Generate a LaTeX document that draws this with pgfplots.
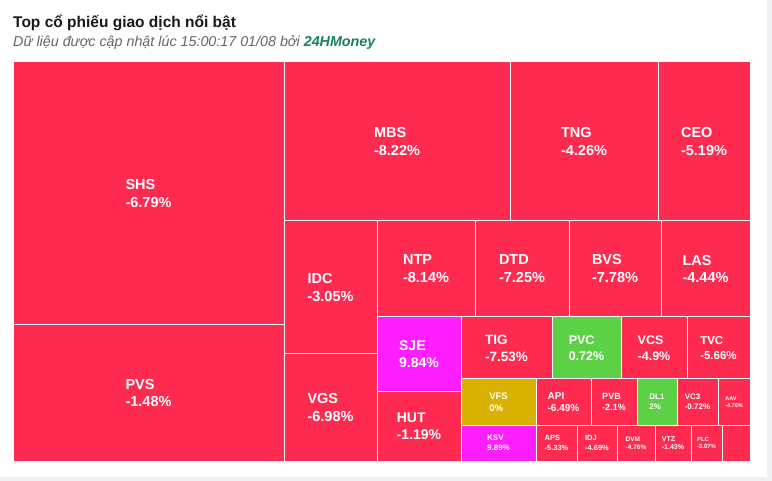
\documentclass[border=0pt]{standalone}
\usepackage{pgfplots}
\pgfplotsset{compat=1.18}
\usepackage{fontspec}
\setmainfont{Liberation Sans}
\definecolor{cred}{HTML}{FF2A50}
\definecolor{cmag}{HTML}{FF1EFF}
\definecolor{cgreen}{HTML}{5CD146}
\definecolor{cyellow}{HTML}{D9B200}
\definecolor{bgrey}{HTML}{EEF0F4}
\definecolor{subgrey}{HTML}{666666}
\definecolor{brand}{HTML}{17805F}
% cell: x1 y1 x2 y2 colour name value fontsize
\newcommand{\cell}[8]{%
  \addplot[fill=#5, draw=white, line width=1pt] coordinates {(#1,#2) (#3,#2) (#3,#4) (#1,#4)} -- cycle;
  \node[text=white, font=\bfseries\fontsize{#8pt}{\dimexpr #8pt*124/100\relax}\selectfont, align=left, inner sep=0pt]
    at (axis cs:{(#1+#3)/2},{(#2+#4)/2}) {#6\\#7};
}
\begin{document}
\begin{tikzpicture}
\begin{axis}[
  scale only axis, width=772pt, height=481pt,
  xmin=0, xmax=772, ymin=0, ymax=481, y dir=reverse,
  hide axis, clip=false,
]
\addplot[fill=white, draw=none] coordinates {(0,0) (772,0) (772,481) (0,481)} -- cycle;
\addplot[fill=bgrey, draw=none] coordinates {(767,0) (772,0) (772,481) (767,481)} -- cycle;
\addplot[fill=bgrey, draw=none] coordinates {(0,477) (772,477) (772,481) (0,481)} -- cycle;
\node[anchor=base west, inner sep=0pt, font=\bfseries\fontsize{15.5pt}{18pt}\selectfont, text=black!90] at (axis cs:13,28) {Top cổ phiếu giao dịch nổi bật};
\node[anchor=base west, inner sep=0pt, font=\itshape\fontsize{14.3pt}{16pt}\selectfont, text=subgrey] at (axis cs:13,47) {Dữ liệu được cập nhật lúc 15:00:17 01/08 bởi \textcolor{brand}{\bfseries 24HMoney}};
\cell{13}{62}{284}{325}{cred}{SHS}{-6.79\%}{14.5}
\cell{13}{325}{284}{461}{cred}{PVS}{-1.48\%}{14.5}
\cell{284}{62}{510}{221}{cred}{MBS}{-8.22\%}{14.5}
\cell{510}{62}{658}{221}{cred}{TNG}{-4.26\%}{14.5}
\cell{658}{62}{750}{221}{cred}{CEO}{-5.19\%}{14.5}
\cell{284}{221}{377}{354}{cred}{IDC}{-3.05\%}{14.5}
\cell{284}{354}{377}{461}{cred}{VGS}{-6.98\%}{14.5}
\cell{377}{221}{475}{317}{cred}{NTP}{-8.14\%}{14.5}
\cell{475}{221}{569}{317}{cred}{DTD}{-7.25\%}{14.5}
\cell{569}{221}{661}{317}{cred}{BVS}{-7.78\%}{14.5}
\cell{661}{221}{750}{317}{cred}{LAS}{-4.44\%}{14.5}
\cell{377}{317}{461}{392}{cmag}{SJE}{9.84\%}{14}
\cell{377}{392}{461}{461}{cred}{HUT}{-1.19\%}{14}
\cell{461}{317}{552}{379}{cred}{TIG}{-7.53\%}{13.5}
\cell{552}{317}{621}{379}{cgreen}{PVC}{0.72\%}{12.5}
\cell{621}{317}{687}{379}{cred}{VCS}{-4.9\%}{12.5}
\cell{687}{317}{750}{379}{cred}{TVC}{-5.66\%}{11.5}
\cell{461}{379}{536}{425}{cyellow}{VFS}{0\%}{9.5}
\cell{536}{379}{591}{425}{cred}{API}{-6.49\%}{10}
\cell{591}{379}{637}{425}{cred}{PVB}{-2.1\%}{9}
\cell{637}{379}{677}{425}{cgreen}{DL1}{2\%}{8}
\cell{677}{379}{718}{425}{cred}{VC3}{-0.72\%}{8}
\cell{718}{379}{750}{425}{cred}{AAV}{-4.76\%}{5.5}
\cell{461}{425}{536}{461}{cmag}{KSV}{9.89\%}{8}
\cell{536}{425}{577}{461}{cred}{APS}{-5.33\%}{7.5}
\cell{577}{425}{617}{461}{cred}{IDJ}{-4.69\%}{7.5}
\cell{617}{425}{655}{461}{cred}{DVM}{-4.76\%}{6.5}
\cell{655}{425}{691}{461}{cred}{VTZ}{-1.43\%}{7}
\cell{691}{425}{722}{461}{cred}{PLC}{-3.07\%}{6}
\addplot[fill=cred, draw=white, line width=1pt] coordinates {(722,425) (750,425) (750,461) (722,461)} -- cycle;
\end{axis}
\end{tikzpicture}
\end{document}
